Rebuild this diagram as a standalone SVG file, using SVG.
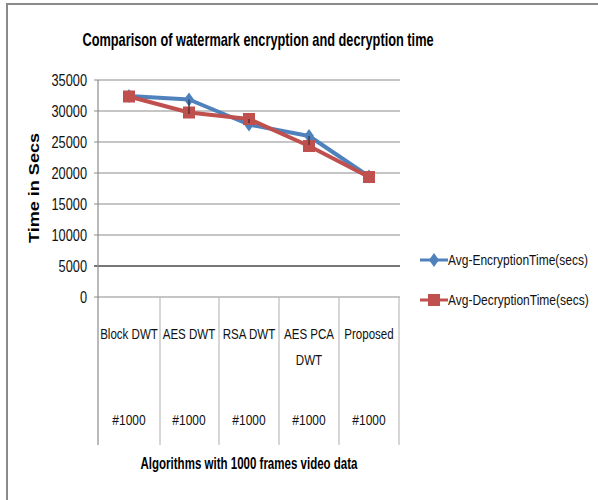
<svg xmlns="http://www.w3.org/2000/svg" width="598" height="500" viewBox="0 0 598 500">
<style>
.grid{stroke:#8c8c8c;stroke-width:1.2;fill:none}
.cat{stroke:#bdbdbd;stroke-width:1.2;fill:none}
.lbl{font-family:"Liberation Sans",Arial,sans-serif;font-size:15px;fill:#111}
.ylbl{font-family:"Liberation Sans",Arial,sans-serif;font-size:16px;fill:#111}
.bold{font-family:"Liberation Sans",Arial,sans-serif;font-weight:bold;fill:#000}
.enc{stroke:#4f81bd;stroke-width:4;fill:none;stroke-linejoin:round}
.dec{stroke:#c0504d;stroke-width:4;fill:none;stroke-linejoin:round}
.dia{fill:#4f81bd}
.sq{fill:#c0504d}
.hl{stroke:#222;stroke-width:1}
</style>
<defs>
<path id="diamond" d="M0,-7 L5,0 L0,7 L-5,0 Z"/>
<rect id="square" x="-6" y="-6" width="12" height="12"/>
</defs>
<rect width="598" height="500" fill="#fff"/>
<g id="frame">
<path d="M7,500 V4 H598" fill="none" stroke="#8a8a8a" stroke-width="2"/>
</g>
<g id="title">
<text class="bold" font-size="18" text-anchor="middle" transform="translate(258,46) scale(0.71,1)">Comparison of watermark encryption and decryption time</text>
</g>
<g id="axes">
<line class="grid" x1="94" y1="80" x2="400" y2="80"/>
<line class="grid" x1="94" y1="111" x2="400" y2="111"/>
<line class="grid" x1="94" y1="142" x2="400" y2="142"/>
<line class="grid" x1="94" y1="173" x2="400" y2="173"/>
<line class="grid" x1="94" y1="204" x2="400" y2="204"/>
<line class="grid" x1="94" y1="235" x2="400" y2="235"/>
<line x1="94" y1="266" x2="400" y2="266" stroke="#777" stroke-width="2"/>
<line class="grid" x1="94" y1="297" x2="400" y2="297"/>
<line class="grid" x1="98" y1="80" x2="98" y2="445"/>
<line class="cat" x1="160" y1="297" x2="160" y2="445"/>
<line class="cat" x1="219" y1="297" x2="219" y2="445"/>
<line class="cat" x1="279" y1="297" x2="279" y2="445"/>
<line class="cat" x1="339" y1="297" x2="339" y2="445"/>
<line class="cat" x1="399" y1="297" x2="399" y2="445"/>
<g class="ylbl" text-anchor="end">
<text transform="translate(87,86) scale(0.8,1)">35000</text>
<text transform="translate(87,117) scale(0.8,1)">30000</text>
<text transform="translate(87,148) scale(0.8,1)">25000</text>
<text transform="translate(87,179) scale(0.8,1)">20000</text>
<text transform="translate(87,210) scale(0.8,1)">15000</text>
<text transform="translate(87,241) scale(0.8,1)">10000</text>
<text transform="translate(87,272) scale(0.8,1)">5000</text>
<text transform="translate(87,303) scale(0.8,1)">0</text>
</g>
<text class="bold" font-size="15" transform="translate(39,188) rotate(-90)" text-anchor="middle" textLength="110" lengthAdjust="spacingAndGlyphs">Time in Secs</text>
<g class="lbl" text-anchor="middle">
<text transform="translate(129,339) scale(0.77,1)">Block DWT</text>
<text transform="translate(189,339) scale(0.77,1)">AES DWT</text>
<text transform="translate(249,339) scale(0.77,1)">RSA DWT</text>
<text transform="translate(309,339) scale(0.77,1)">AES PCA</text>
<text transform="translate(309,365) scale(0.77,1)">DWT</text>
<text transform="translate(369,339) scale(0.77,1)">Proposed</text>
<text transform="translate(129,425) scale(0.8,1)">#1000</text>
<text transform="translate(189,425) scale(0.8,1)">#1000</text>
<text transform="translate(249,425) scale(0.8,1)">#1000</text>
<text transform="translate(309,425) scale(0.8,1)">#1000</text>
<text transform="translate(369,425) scale(0.8,1)">#1000</text>
</g>
<text class="bold" font-size="16" text-anchor="middle" transform="translate(249,469) scale(0.72,1)">Algorithms with 1000 frames video data</text>
</g>
<g id="series">
<polyline class="enc" points="129,96 189,99.5 249,124.5 309,136 369,176.5"/>
<polyline class="dec" points="129,96.5 189,112.5 249,119 309,146 369,177"/>
<g class="dia">
<use href="#diamond" x="129" y="96"/>
<use href="#diamond" x="189" y="99.5"/>
<use href="#diamond" x="249" y="124.5"/>
<use href="#diamond" x="309" y="136"/>
<use href="#diamond" x="369" y="176.5"/>
</g>
<g class="sq">
<use href="#square" x="129" y="96.5"/>
<use href="#square" x="189" y="112.5"/>
<use href="#square" x="249" y="119"/>
<use href="#square" x="309" y="146"/>
<use href="#square" x="369" y="177"/>
</g>
<g class="hl">
<line x1="189" y1="99.5" x2="189" y2="114"/>
<line x1="249" y1="119" x2="249" y2="123"/>
<line x1="309" y1="136" x2="309" y2="145"/>
</g>
</g>
<g id="legend">
<line x1="420" y1="260" x2="448" y2="260" stroke="#4f81bd" stroke-width="3"/>
<use href="#diamond" x="434" y="260" class="dia"/>
<text class="lbl" transform="translate(448,265) scale(0.8,1)">Avg-EncryptionTime(secs)</text>
<line x1="420" y1="300" x2="448" y2="300" stroke="#c0504d" stroke-width="3"/>
<use href="#square" x="434" y="300" class="sq"/>
<text class="lbl" transform="translate(448,305) scale(0.8,1)">Avg-DecryptionTime(secs)</text>
</g>
</svg>
